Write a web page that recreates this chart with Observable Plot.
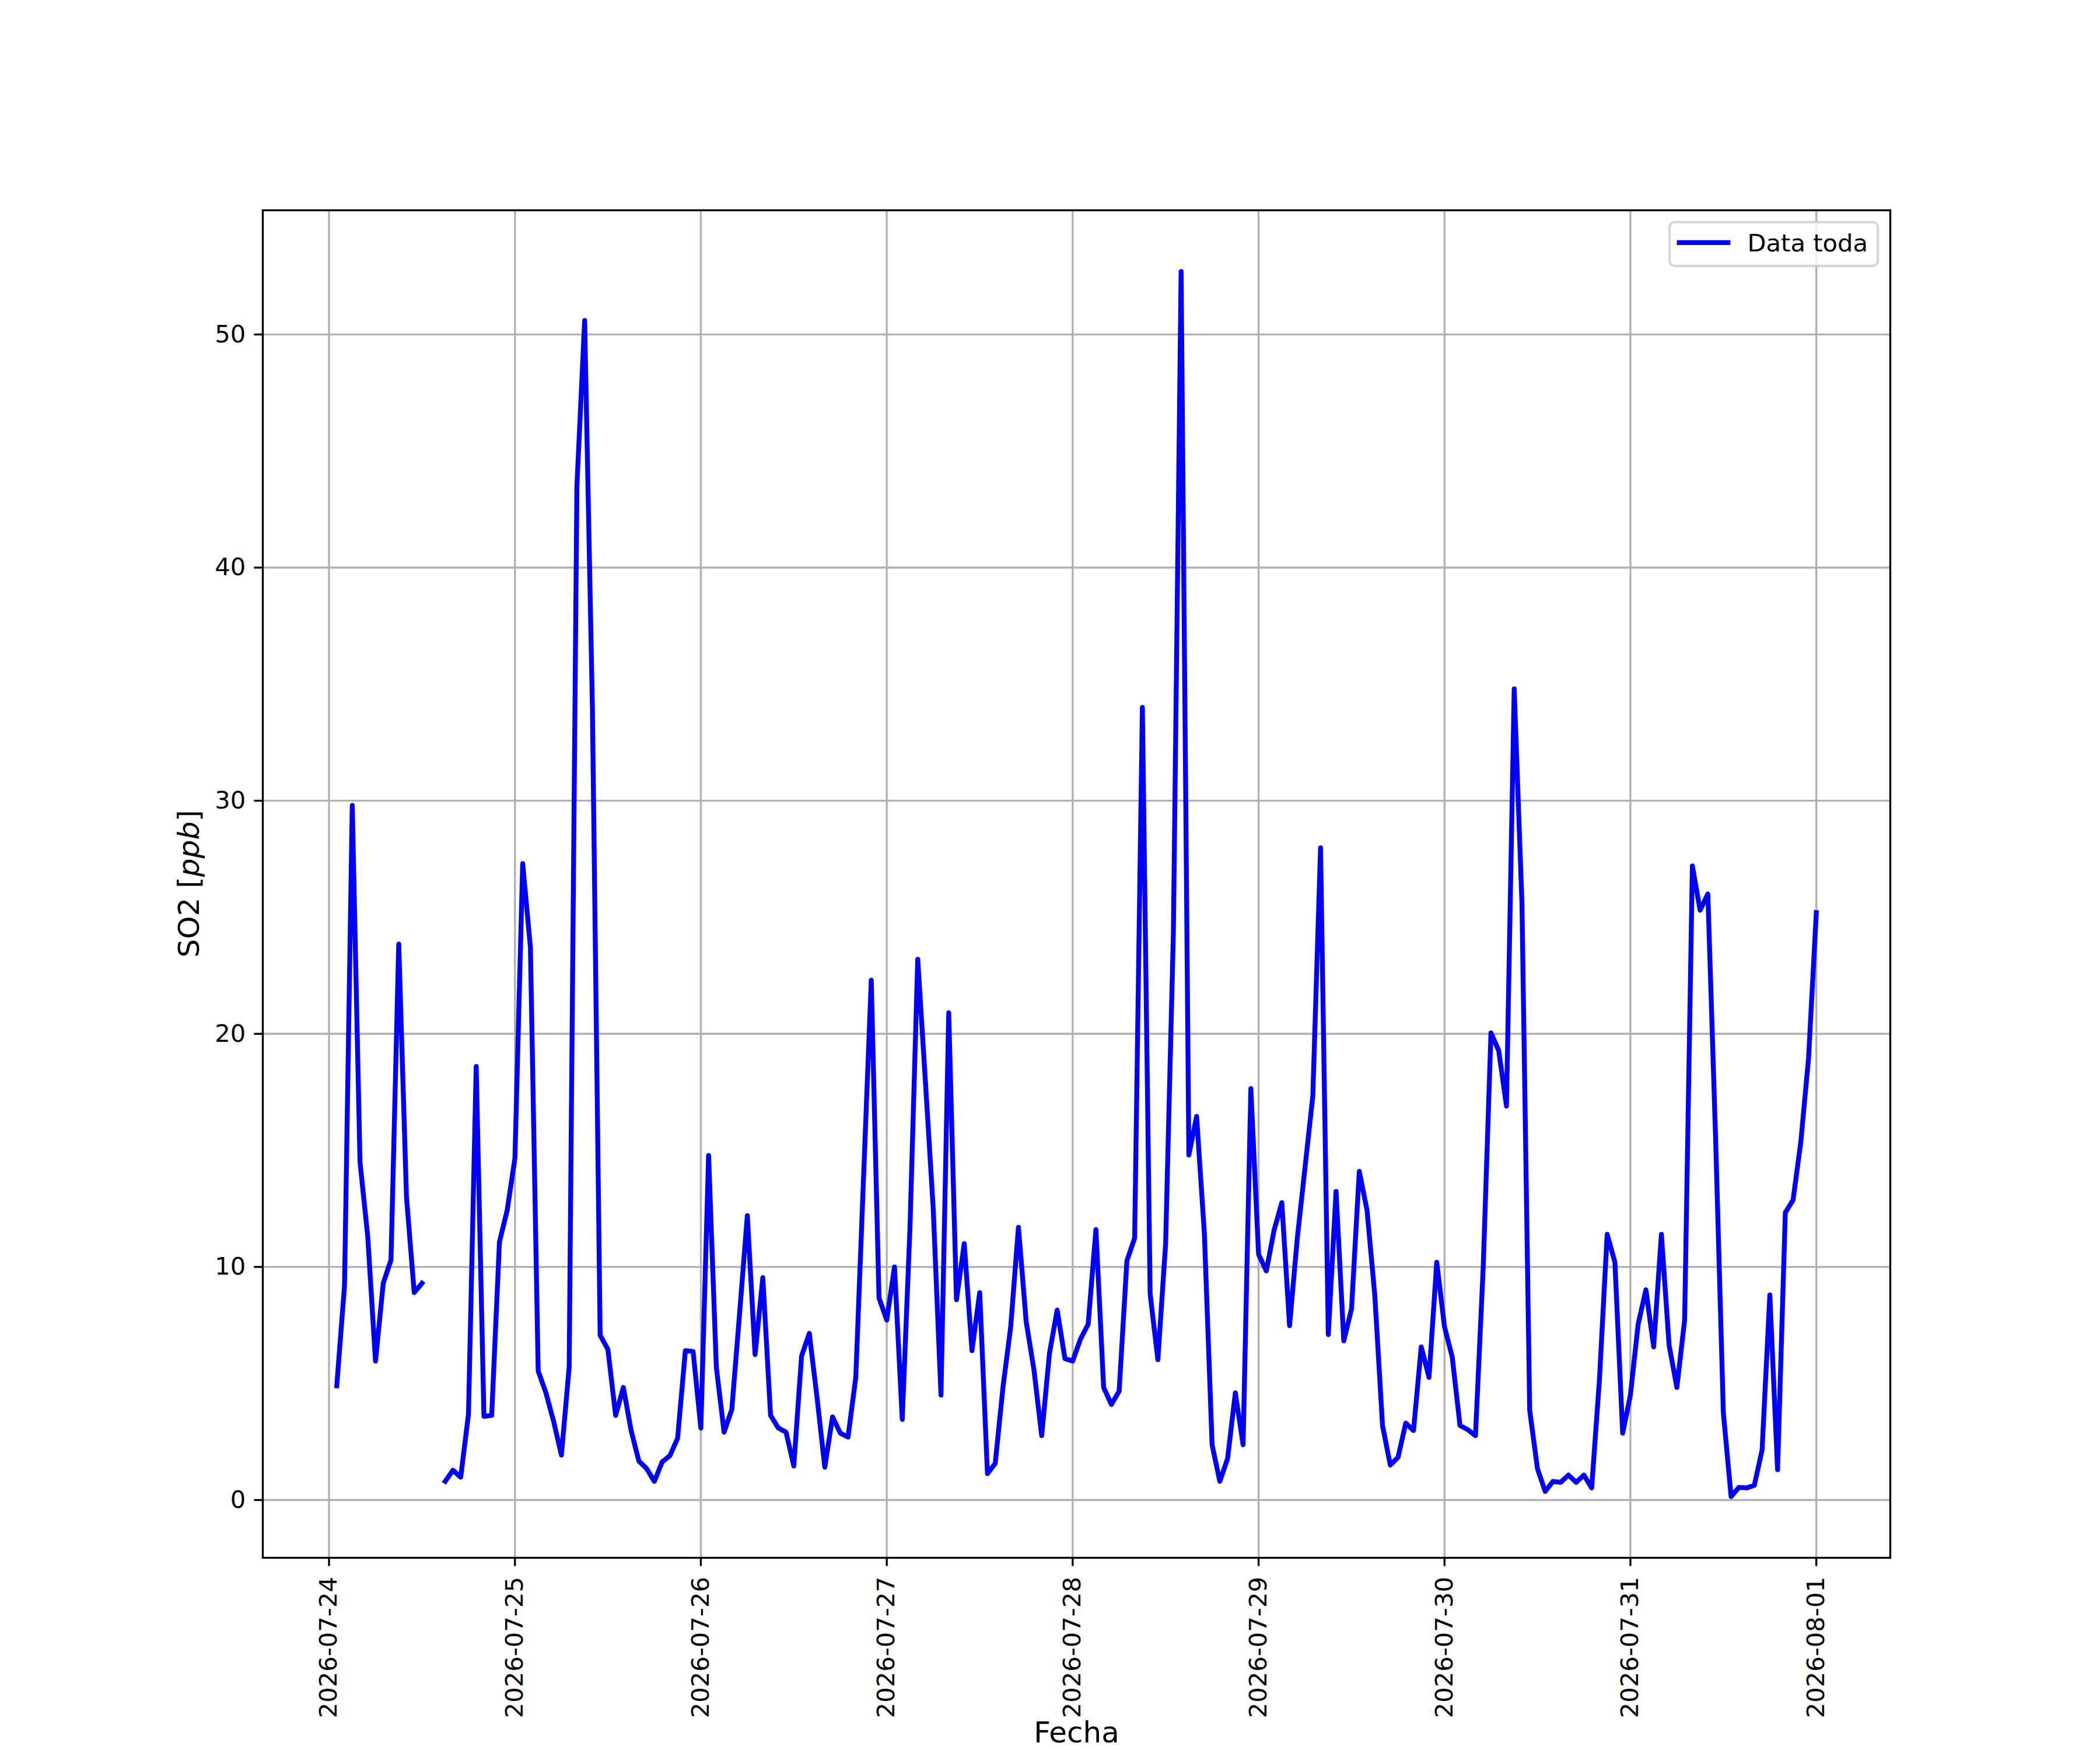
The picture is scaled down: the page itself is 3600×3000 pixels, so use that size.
<!DOCTYPE html>
<html>
<head>
<meta charset="utf-8">
<script src="https://cdn.jsdelivr.net/npm/d3@7"></script>
<script src="https://cdn.jsdelivr.net/npm/@observablehq/plot@0.6"></script>
<style>
  html, body { margin: 0; padding: 0; background: white; }
</style>
</head>
<body>
<div id="chart"></div>
<script>
// Hourly SO2 [ppb], first value at 2026-07-24 01:00 (UTC), one array per day (01:00 ... 24:00)
const startTime = "2026-07-24T01:00:00Z";
const d0724 = [4.9, 9.2, 29.8, 14.5, 11.3, 5.96, 9.3, 10.3, 23.85, 13.0, 8.9, 9.3, null, null, 0.8, 1.28, 0.98, 3.67, 18.6, 3.59, 3.63, 11.07, 12.43, 14.67];
const d0725 = [27.3, 23.7, 5.54, 4.6, 3.37, 1.93, 5.7, 43.5, 50.6, 34.0, 7.07, 6.46, 3.63, 4.83, 2.98, 1.67, 1.35, 0.8, 1.63, 1.9, 2.65, 6.41, 6.37, 3.09];
const d0726 = [14.78, 5.7, 2.91, 3.89, 8.0, 12.2, 6.24, 9.54, 3.63, 3.09, 2.91, 1.46, 6.17, 7.15, 4.4, 1.41, 3.57, 2.87, 2.7, 5.26, 13.8, 22.3, 8.67, 7.72];
const d0727 = [10.0, 3.46, 11.7, 23.2, 17.9, 12.5, 4.5, 20.9, 8.59, 11.0, 6.41, 8.9, 1.13, 1.57, 4.83, 7.43, 11.7, 7.65, 5.59, 2.76, 6.28, 8.15, 6.07, 5.96];
const d0728 = [6.9, 7.54, 11.6, 4.83, 4.1, 4.67, 10.26, 11.24, 34.0, 8.85, 6.02, 11.0, 24.3, 52.7, 14.8, 16.46, 11.46, 2.37, 0.8, 1.78, 4.6, 2.37, 17.65, 10.54];
const d0729 = [9.83, 11.57, 12.76, 7.48, 11.24, 14.28, 17.33, 27.98, 7.1, 13.24, 6.83, 8.2, 14.1, 12.43, 8.8, 3.2, 1.5, 1.83, 3.3, 2.98, 6.57, 5.26, 10.2, 7.43];
const d0730 = [6.13, 3.2, 3.02, 2.76, 10.0, 20.04, 19.28, 16.9, 34.8, 25.6, 3.85, 1.35, 0.37, 0.8, 0.76, 1.07, 0.76, 1.07, 0.52, 5.15, 11.4, 10.2, 2.87, 4.5];
const d0731 = [7.54, 9.02, 6.57, 11.4, 6.63, 4.83, 7.72, 27.2, 25.3, 26.0, 15.5, 3.74, 0.15, 0.54, 0.52, 0.63, 2.15, 8.8, 1.3, 12.33, 12.87, 15.37, 18.96, 25.2];

const yTicks = [0, 10, 20, 30, 40, 50];
const xTickStart = "2026-07-24T00:00:00Z";
const xTickEnd = "2026-08-01T00:00:00Z";
const seriesName = "Data toda";
const xLabel = "Fecha";

// Build table
const values = [].concat(d0724, d0725, d0726, d0727, d0728, d0729, d0730, d0731);
const t0 = new Date(startTime).getTime();
const table = values.map((v, i) => ({t: new Date(t0 + i * 3600e3), v}));

const dayTicks = d3.utcDay.range(new Date(xTickStart), d3.utcDay.offset(new Date(xTickEnd), 1));

// matplotlib-like 5% margins
const tExt = d3.extent(table, d => d.t.getTime());
const tPad = (tExt[1] - tExt[0]) * 0.05;
const vExt = d3.extent(table.filter(d => d.v != null), d => d.v);
const vPad = (vExt[1] - vExt[0]) * 0.05;

// layout (pixels, 300 dpi matplotlib defaults)
const W = 3600, H = 3000;
const mL = 450, mR = 360, mT = 360, mB = 330;
const lw = 3.33;      // 0.8 pt
const dataLw = 8.33;  // 2 pt
const tick = 14.6;    // 3.5 pt
const fs = 41.67;     // 10 pt
const fsL = 50;       // 12 pt

const chart = Plot.plot({
  width: W,
  height: H,
  marginLeft: mL, marginRight: mR, marginTop: mT, marginBottom: mB,
  style: {fontFamily: "DejaVu Sans", fontSize: fs + "px", color: "black", background: "white"},
  x: {type: "utc", domain: [new Date(tExt[0] - tPad), new Date(tExt[1] + tPad)]},
  y: {domain: [vExt[0] - vPad, vExt[1] + vPad], nice: false, zero: false},
  marks: [
    Plot.gridX(dayTicks, {stroke: "#b0b0b0", strokeOpacity: 1, strokeWidth: lw}),
    Plot.gridY(yTicks, {stroke: "#b0b0b0", strokeOpacity: 1, strokeWidth: lw}),
    Plot.line(table, {x: "t", y: "v", stroke: "#0000ff", strokeWidth: dataLw, strokeLinejoin: "round", strokeLinecap: "square"}),
    Plot.frame({stroke: "black", strokeWidth: lw}),
    Plot.axisY(yTicks, {tickSize: tick, tickPadding: tick, strokeWidth: lw, fontSize: fs, label: null, tickFormat: d => String(d)}),
    Plot.axisX(dayTicks, {tickSize: tick, tickPadding: 18, tickRotate: -90, strokeWidth: lw, fontSize: fs, label: null, tickFormat: d3.utcFormat("%Y-%m-%d")}),
    Plot.text([xLabel], {text: d => d, frameAnchor: "bottom", dy: 316, fontSize: fsL, lineAnchor: "bottom", fill: "black"})
  ]
});

document.getElementById("chart").appendChild(chart);

const svg = d3.select(chart);

// y label with italic unit (mathtext-like)
const yl = svg.append("text")
  .attr("transform", `translate(341,${(mT + (H - mB)) / 2}) rotate(-90)`)
  .attr("text-anchor", "middle")
  .attr("font-family", "DejaVu Sans")
  .attr("font-size", fsL)
  .attr("fill", "black");
yl.append("tspan").text("SO2 [");
yl.append("tspan").attr("font-style", "italic").text("ppb");
yl.append("tspan").text("]");

// legend (upper right)
const pad = 0.5 * fs;
const lgRight = W - mR - pad;
const lgTop = mT + pad;
const lgW = 357, lgH = 75;
const lg = svg.append("g");
lg.append("rect")
  .attr("x", lgRight - lgW).attr("y", lgTop)
  .attr("width", lgW).attr("height", lgH)
  .attr("rx", 0.2 * fs).attr("ry", 0.2 * fs)
  .attr("fill", "white").attr("fill-opacity", 0.8)
  .attr("stroke", "#cccccc").attr("stroke-opacity", 0.8).attr("stroke-width", 4.17);
const hx0 = lgRight - lgW + 0.4 * fs;
lg.append("line")
  .attr("x1", hx0).attr("x2", hx0 + 2 * fs)
  .attr("y1", lgTop + 35).attr("y2", lgTop + 35)
  .attr("stroke", "#0000ff").attr("stroke-width", dataLw).attr("stroke-linecap", "square");
lg.append("text")
  .attr("x", hx0 + 2.8 * fs).attr("y", lgTop + 50)
  .attr("text-anchor", "start")
  .attr("font-family", "DejaVu Sans").attr("font-size", fs).attr("fill", "black")
  .text(seriesName);
</script>
</body>
</html>
